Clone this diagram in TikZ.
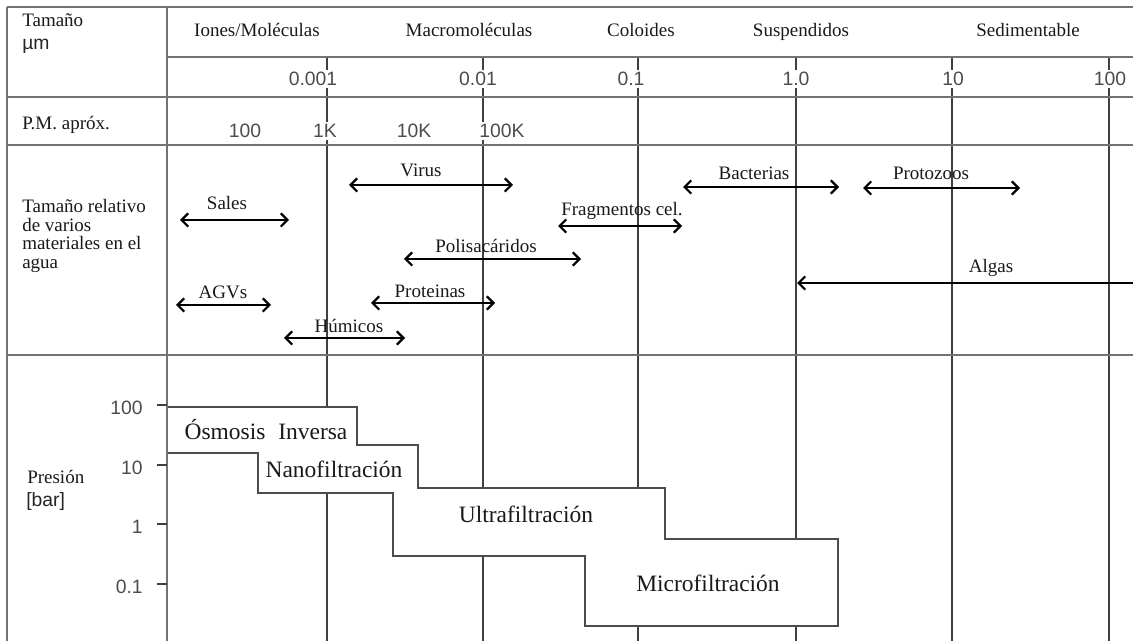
\documentclass[tikz,border=0pt]{standalone}
\usepackage{fontspec}
\setmainfont{Liberation Serif}
\setsansfont{Liberation Sans}
\usetikzlibrary{arrows.meta}
\begin{document}
\begin{tikzpicture}[x=0.75pt,y=-0.75pt,
  lbl/.style={font=\fontsize{14.25}{16}\selectfont, text=black!90, inner sep=0pt},
  hdr/.style={lbl, anchor=base},
  num/.style={font=\sffamily\fontsize{14.5}{16}\selectfont, text=black!70, fill=white, inner sep=1.5pt},
  snum/.style={font=\sffamily\fontsize{14.5}{16}\selectfont, text=black!70, inner sep=0pt},
  proc/.style={font=\fontsize{17.6}{20}\selectfont, text=black!90, inner sep=0pt},
  hline/.style={draw=black!55, line width=1.6pt},
  vline/.style={draw=black!75, line width=1.1pt},
  stair/.style={draw=black!70, fill=white, line width=1.1pt},
  barb/.tip={Straight Barb[length=5pt,width=10pt]},
  rng/.style={draw=black, line width=1.6pt, barb-barb},
  lrng/.style={draw=black, line width=1.6pt, barb-},
]
\useasboundingbox (0,0) rectangle (1133,641);
% vertical grid lines
\foreach \x/\n in {327/a,483/b,638/c,796/d,952/e,1109/f}{
  \coordinate (gt\n) at (\x,57);
  \coordinate (gb\n) at (\x,641);
  \draw[vline] (gt\n) -- (gb\n);
}
% frame and rows
\coordinate (tl) at (7,7);
\coordinate (tr) at (1133,7);
\coordinate (bl) at (7,641);
\coordinate (ct) at (167,7);
\coordinate (cb) at (167,641);
\draw[hline] (tl) -- (tr);
\draw[hline] (tl) -- (bl);
\coordinate (r1l) at (167,57);  \coordinate (r1r) at (1133,57);
\coordinate (r2l) at (7,97);    \coordinate (r2r) at (1133,97);
\coordinate (r3l) at (7,145);   \coordinate (r3r) at (1133,145);
\coordinate (r4l) at (7,355);   \coordinate (r4r) at (1133,355);
\draw[hline] (r1l) -- (r1r);
\draw[hline] (r2l) -- (r2r);
\draw[hline] (r3l) -- (r3r);
\draw[hline] (r4l) -- (r4r);

% header texts
\node[lbl, anchor=base west] (tam) at (22,27) {Tamaño};
\node[snum, text=black!85, anchor=west] (um) at (22,46) {µm};
\node[hdr] (ion) at (257,37) {Iones/Moléculas};
\node[hdr] (mac) at (469,37) {Macromoléculas};
\node[hdr] (col) at (641,37) {Coloides};
\node[hdr] (sus) at (801,37) {Suspendidos};
\node[hdr] (sed) at (1028,37) {Sedimentable};

% size scale
\node[num] (s1) at (313,79) {0.001};
\node[num] (s2) at (478,79) {0.01};
\node[num] (s3) at (631,79) {0.1};
\node[num] (s4) at (796,79) {1.0};
\node[num] (s5) at (953,79) {10};
\node[num] (s6) at (1110,79) {100};

% molecular weight
\node[lbl, anchor=west] (pm) at (22,125) {P.M. apróx.};
\node[num] (m1) at (245,131) {100};
\node[num] (m2) at (325,131) {1K};
\node[num] (m3) at (414,131) {10K};
\node[num] (m4) at (502,131) {100K};

% relative sizes
\node[lbl, anchor=west, align=left, font=\fontsize{14.25}{14}\selectfont] (rel) at (22,236)
  {Tamaño relativo\\de varios\\materiales en el\\agua};

\coordinate (virL) at (349,185); \coordinate (virR) at (513,185);
\draw[rng] (virL) -- (virR);
\node[lbl] (vir) at (421,170) {Virus};

\coordinate (salL) at (180,220); \coordinate (salR) at (289,220);
\draw[rng] (salL) -- (salR);
\node[lbl] (sal) at (227,203) {Sales};

\coordinate (polL) at (404,259); \coordinate (polR) at (581,259);
\draw[rng] (polL) -- (polR);
\node[lbl] (pol) at (486,246) {Polisacáridos};

\coordinate (agvL) at (176,305); \coordinate (agvR) at (271,305);
\draw[rng] (agvL) -- (agvR);
\node[lbl] (agv) at (223,292) {AGVs};

\coordinate (proL) at (371,303); \coordinate (proR) at (495,303);
\draw[rng] (proL) -- (proR);
\node[lbl] (pro) at (430,291) {Proteinas};

\coordinate (humL) at (284,338); \coordinate (humR) at (405,338);
\draw[rng] (humL) -- (humR);
\node[lbl] (hum) at (349,326) {Húmicos};

\coordinate (bacL) at (683,187); \coordinate (bacR) at (839,187);
\draw[rng] (bacL) -- (bacR);
\node[lbl] (bac) at (754,173) {Bacterias};

\coordinate (ptzL) at (863,188); \coordinate (ptzR) at (1020,188);
\draw[rng] (ptzL) -- (ptzR);
\node[lbl] (ptz) at (931,173) {Protozoos};

\coordinate (fraL) at (558,226); \coordinate (fraR) at (682,226);
\draw[rng] (fraL) -- (fraR);
\node[lbl] (fra) at (622,211) {Fragmentos cel.};

\coordinate (algL) at (797,283); \coordinate (algR) at (1133,283);
\draw[lrng] (algL) -- (algR);
\node[lbl] (alg) at (991,268) {Algas};

% pressure section
\draw[stair] (167,407) -- (357,407) -- (357,445) -- (418,445) -- (418,488)
  -- (665,488) -- (665,539) -- (838,539) -- (838,626) -- (585,626)
  -- (585,556) -- (393,556) -- (393,493) -- (258,493) -- (258,453)
  -- (167,453) -- cycle;
\draw[hline] (ct) -- (cb);

\foreach \y/\t/\n in {405/100/p1,465/10/p2,524/1/p3,584/0.1/p4}{
  \coordinate (tk\n) at (157,\y);
  \coordinate (tke\n) at (167,\y);
  \draw[vline] (tk\n) -- (tke\n);
  \node[snum, anchor=east] (lb\n) at (143,\y+3) {\t};
}
\node[lbl, anchor=west] (pre) at (27,477) {Presión};
\node[snum, text=black!85, anchor=west] (bar) at (26,502) {[bar]};

\node[proc] (ro) at (266,430) {Ósmosis\hspace{0.55em}Inversa};
\node[proc] (nf) at (334,469) {Nanofiltración};
\node[proc] (uf) at (526,514) {Ultrafiltración};
\node[proc] (mf) at (708,583) {Microfiltración};
\end{tikzpicture}
\end{document}
